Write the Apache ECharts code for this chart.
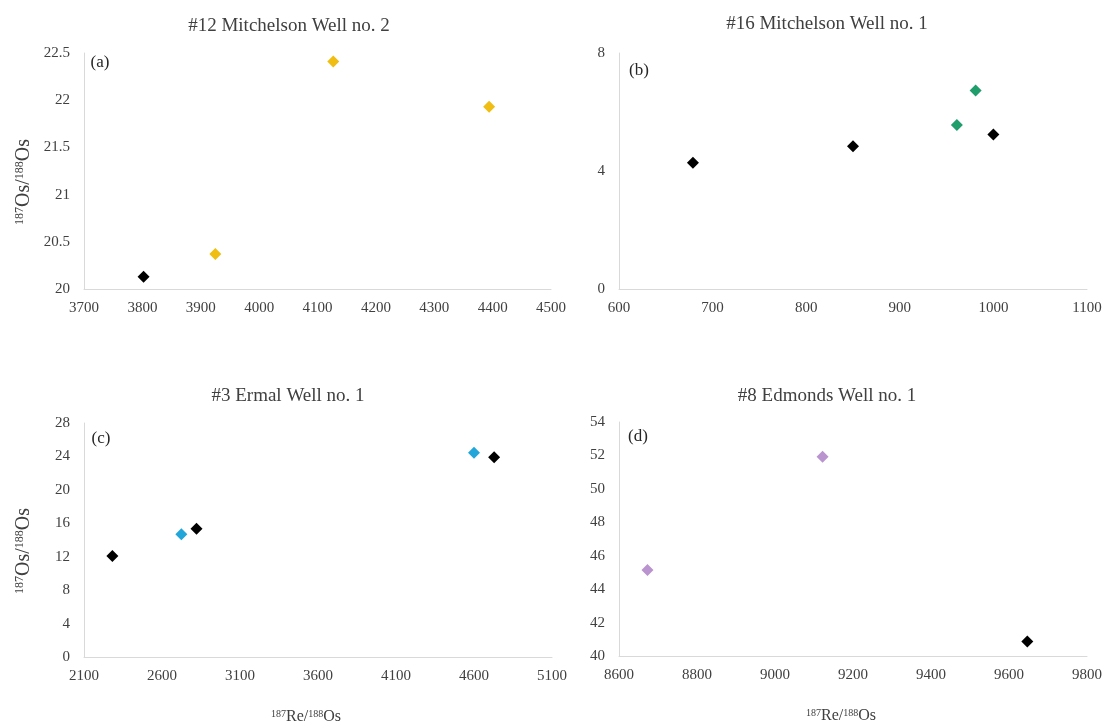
<!DOCTYPE html>
<html>
<head>
<meta charset="utf-8">
<title>Re-Os scatter</title>
<script src="https://cdn.jsdelivr.net/npm/echarts@6/dist/echarts.min.js"></script>
<style>
  html, body { margin: 0; padding: 0; background: #fff; }
  #main { width: 1109px; height: 726px; }
</style>
</head>
<body>
<div id="main"></div>
<script>
// panel titles
var titles = ['#12 Mitchelson Well no. 2', '#16 Mitchelson Well no. 1', '#3 Ermal Well no. 1', '#8 Edmonds Well no. 1'];
var tags = ['(a)', '(b)', '(c)', '(d)'];

// (a) 187Re/188Os, 187Os/188Os
var aBlack = [[3802, 20.13]];
var aYellow = [[3925, 20.37], [4127, 22.41], [4394, 21.93]];
// (b)
var bBlack = [[679, 4.28], [850, 4.84], [1000, 5.24]];
var bGreen = [[961, 5.56], [981, 6.73]];
// (c)
var cBlack = [[2282, 12.1], [2821, 15.35], [4729, 23.9]];
var cBlue = [[2724, 14.7], [4600, 24.45]];
// (d)
var dBlack = [[9647, 40.87]];
var dPurple = [[8673, 45.15], [9122, 51.92]];

// axis ranges [min, max, interval]
var xRanges = [[3700, 4500, 100], [600, 1100, 100], [2100, 5100, 500], [8600, 9800, 200]];
var yRanges = [[20, 22.5, 0.5], [0, 8, 4], [0, 28, 4], [40, 54, 2]];

var FONT = '"Liberation Serif", "Times New Roman", serif';
var grids = [
    {left: 84, top: 53, width: 467, height: 236},
    {left: 619, top: 53, width: 468, height: 236},
    {left: 84, top: 423, width: 468, height: 234},
    {left: 619, top: 422, width: 468, height: 234}
];
var titlePos = [[284, 12], [822, 10], [283, 382], [822, 382]];
var tagPos = [[100, 63], [639, 71], [101, 439], [638, 437]];

var supRich = {
    sup: {fontSize: 10, fontFamily: FONT, color: '#404040', padding: [0, 0, 6, 0]},
    big: {fontSize: 16, fontFamily: FONT, color: '#404040'}
};
var supRichY = {
    sup: {fontSize: 12, fontFamily: FONT, color: '#404040', padding: [0, 0, 8, 0]},
    big: {fontSize: 20, fontFamily: FONT, color: '#404040'}
};

function plain(v) { return String(v); }

var xAxes = xRanges.map(function (r, i) {
    var ax = {
        type: 'value', gridIndex: i, min: r[0], max: r[1], interval: r[2],
        axisLine: {lineStyle: {color: '#d9d9d9', width: 1}},
        axisTick: {show: false},
        splitLine: {show: false},
        axisLabel: {color: '#404040', fontFamily: FONT, fontSize: 15, margin: 12, formatter: plain}
    };
    if (i >= 2) {
        ax.name = '{sup|187}{big|Re/}{sup|188}{big|Os}';
        ax.nameLocation = 'middle';
        ax.nameGap = 52;
        ax.nameTextStyle = {rich: supRich, padding: [0, 24, 0, 0]};
    }
    return ax;
});

var yAxes = yRanges.map(function (r, i) {
    var ax = {
        type: 'value', gridIndex: i, min: r[0], max: r[1], interval: r[2],
        axisLine: {show: true, lineStyle: {color: '#d9d9d9', width: 1}},
        axisTick: {show: false},
        splitLine: {show: false},
        axisLabel: {color: '#404040', fontFamily: FONT, fontSize: 15, margin: 14, formatter: plain}
    };
    if (i === 0 || i === 2) {
        ax.name = '{sup|187}{big|Os/}{sup|188}{big|Os}';
        ax.nameLocation = 'middle';
        ax.nameGap = 50;
        ax.nameTextStyle = {rich: supRichY, padding: [0, 22, 0, 0]};
    }
    return ax;
});

function pts(data, idx, color) {
    return {
        type: 'scatter', xAxisIndex: idx, yAxisIndex: idx,
        symbol: 'diamond', symbolSize: 12, data: data,
        itemStyle: {color: color, opacity: 1}
    };
}

var chart = echarts.init(document.getElementById('main'));
chart.setOption({
    backgroundColor: '#fff',
    animation: false,
    title: titles.map(function (t, i) {
        return {
            text: t, left: titlePos[i][0], top: titlePos[i][1], textAlign: 'center',
            textStyle: {fontFamily: FONT, fontSize: 19, fontWeight: 'normal', color: '#404040'}
        };
    }),
    graphic: tags.map(function (t, i) {
        return {
            type: 'text', x: tagPos[i][0], y: tagPos[i][1],
            style: {text: t, fontFamily: FONT, fontSize: 17, fill: '#262626', align: 'center', verticalAlign: 'middle'}
        };
    }),
    grid: grids,
    xAxis: xAxes,
    yAxis: yAxes,
    series: [
        pts(aBlack, 0, '#000'),
        pts(aYellow, 0, '#f0bd13'),
        pts(bBlack, 1, '#000'),
        pts(bGreen, 1, '#1f9d6a'),
        pts(cBlack, 2, '#000'),
        pts(cBlue, 2, '#22a6da'),
        pts(dBlack, 3, '#000'),
        pts(dPurple, 3, '#b994cf')
    ]
});
</script>
</body>
</html>
